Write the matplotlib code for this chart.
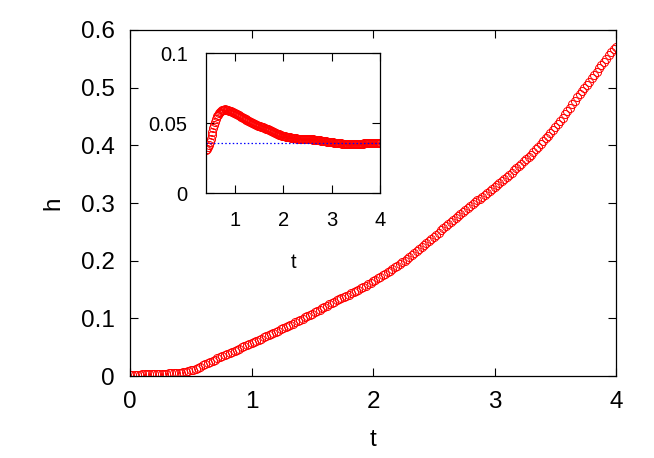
import numpy as np
import matplotlib
matplotlib.use("Agg")
import matplotlib.pyplot as plt

plt.rcParams['font.family'] = ['Liberation Sans', 'DejaVu Sans']

# time grid of the samples (step 0.02)
t = np.arange(0, 201) * 0.02

# height h(t)
h = [
    0.0020, 0.0021, 0.0022, 0.0024, 0.0026, 0.0028, 0.0030, 0.0032, 0.0034, 0.0036,
    0.0038, 0.0039, 0.0040, 0.0041, 0.0042, 0.0043, 0.0044, 0.0045, 0.0046, 0.0048,
    0.0050, 0.0056, 0.0064, 0.0073, 0.0084, 0.0097, 0.0112, 0.0128, 0.0146, 0.0165,
    0.0184, 0.0204, 0.0225, 0.0245, 0.0265, 0.0284, 0.0305, 0.0326, 0.0345, 0.0364,
    0.0384, 0.0402, 0.0421, 0.0439, 0.0457, 0.0476, 0.0495, 0.0514, 0.0533, 0.0553,
    0.0573, 0.0592, 0.0611, 0.0630, 0.0649, 0.0668, 0.0688, 0.0708, 0.0728, 0.0748,
    0.0768, 0.0788, 0.0808, 0.0828, 0.0848, 0.0869, 0.0890, 0.0910, 0.0931, 0.0951,
    0.0972, 0.0994, 0.1015, 0.1037, 0.1058, 0.1080, 0.1104, 0.1128, 0.1152, 0.1176,
    0.1200, 0.1222, 0.1244, 0.1266, 0.1288, 0.1310, 0.1330, 0.1350, 0.1370, 0.1390,
    0.1410, 0.1432, 0.1454, 0.1476, 0.1498, 0.1520, 0.1544, 0.1568, 0.1592, 0.1616,
    0.1640, 0.1666, 0.1692, 0.1718, 0.1744, 0.1770, 0.1798, 0.1826, 0.1854, 0.1882,
    0.1910, 0.1940, 0.1970, 0.2000, 0.2030, 0.2060, 0.2094, 0.2128, 0.2162, 0.2196,
    0.2230, 0.2266, 0.2302, 0.2338, 0.2374, 0.2410, 0.2448, 0.2486, 0.2524, 0.2562,
    0.2600, 0.2634, 0.2668, 0.2702, 0.2736, 0.2770, 0.2806, 0.2842, 0.2878, 0.2914,
    0.2950, 0.2982, 0.3014, 0.3046, 0.3078, 0.3110, 0.3144, 0.3178, 0.3212, 0.3246,
    0.3280, 0.3314, 0.3348, 0.3382, 0.3416, 0.3450, 0.3488, 0.3526, 0.3564, 0.3602,
    0.3640, 0.3680, 0.3720, 0.3760, 0.3800, 0.3840, 0.3886, 0.3932, 0.3978, 0.4024,
    0.4070, 0.4120, 0.4170, 0.4220, 0.4270, 0.4320, 0.4374, 0.4428, 0.4482, 0.4536,
    0.4590, 0.4650, 0.4710, 0.4770, 0.4830, 0.4890, 0.4944, 0.4998, 0.5052, 0.5106,
    0.5160, 0.5218, 0.5276, 0.5334, 0.5392, 0.5450, 0.5504, 0.5558, 0.5612, 0.5664,
    0.5710,
]
h = np.array(h)

# inset shows h / t^2 from t = 0.4 on, with the late-time level as a dotted line
t_inset_min = 0.4
h_level = 0.0357

fig = plt.figure(figsize=(6.54, 4.58), dpi=100)

# main plot
ax = fig.add_axes([0.1988, 0.179, 0.7431, 0.7555])
ax.plot(t, h, 'o', mfc='none', mec='#ff0000', ms=5.8, mew=0.7)
ax.set_xlim(0, 4)
ax.set_ylim(0, 0.6)
ax.set_xticks([0, 1, 2, 3, 4])
ax.set_yticks([0, 0.1, 0.2, 0.3, 0.4, 0.5, 0.6])
ax.set_yticklabels(['0', '0.1', '0.2', '0.3', '0.4', '0.5', '0.6'])
ax.tick_params(direction='in', length=6, width=0.8, top=True, right=True,
               labelsize=17.5, pad=11)
ax.set_xlabel('t', fontsize=17.5, labelpad=11)
ax.set_ylabel('h', fontsize=17.5, labelpad=12)
for s in ax.spines.values():
    s.set_linewidth(0.9)

# inset
mask = t >= t_inset_min - 1e-9
axi = fig.add_axes([0.3145, 0.578, 0.2673, 0.3056])
axi.plot(t[mask], h[mask] / t[mask] ** 2, 'o', mfc='none', mec='#ff0000', ms=5.8, mew=0.7)
axi.axhline(h_level, color='#0000ff', linestyle=(0, (1.2, 1.8)), linewidth=0.9)
axi.set_xlim(t_inset_min, 4)
axi.set_ylim(0, 0.1)
axi.set_xticks([1, 2, 3, 4])
axi.set_yticks([0, 0.05, 0.1])
axi.set_yticklabels(['0', '0.05', '0.1'])
axi.tick_params(direction='in', length=6, width=0.8, top=True, right=True,
                labelsize=14.5, pad=13)
axi.set_xlabel('t', fontsize=14.5, labelpad=16)
for s in axi.spines.values():
    s.set_linewidth(0.9)

fig.savefig('out.png', dpi=100)
